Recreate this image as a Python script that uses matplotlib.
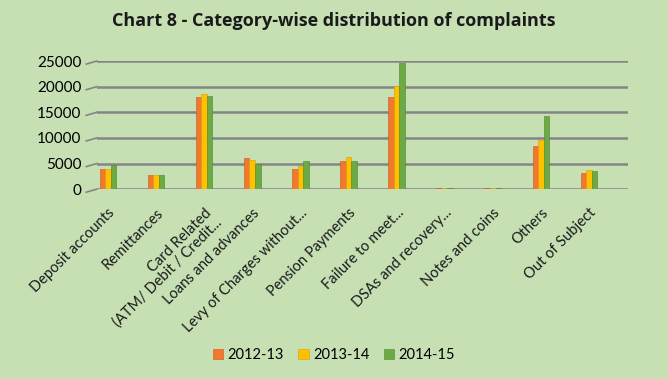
import numpy as np
import matplotlib.pyplot as plt

categories = ["Deposit accounts", "Remittances", "Card Related\n(ATM/ Debit / Credit...",
              "Loans and advances", "Levy of Charges without...", "Pension Payments",
              "Failure to meet...", "DSAs and recovery...", "Notes and coins",
              "Others", "Out of Subject"]
y2012 = [3900, 2700, 18000, 6100, 3900, 5400, 17900, 250, 150, 8400, 3100]
y2013 = [3900, 2700, 18500, 5600, 4600, 6200, 20200, 250, 150, 9600, 3800]
y2014 = [4700, 2700, 18200, 4900, 5500, 5400, 24700, 250, 150, 14200, 3600]
series = ["2012-13", "2013-14", "2014-15"]

colors = ["#F2772F", "#FFC000", "#6EAA43"]
edges = ["#C8561A", "#D9A000", "#4E8530"]
bg = "#C6E0B4"

fig = plt.figure(figsize=(6.68, 3.79), dpi=100, facecolor=bg)
ax = fig.add_axes([0.145, 0.501, 0.795, 0.338], facecolor=bg)

x = np.arange(len(categories))
w = 0.115
for i, (vals, lab) in enumerate(zip([y2012, y2013, y2014], series)):
    ax.bar(x + (i - 1) * w, vals, width=w, color=colors[i], label=lab, zorder=3,
           edgecolor=edges[i], linewidth=0.4)

ax.set_ylim(0, 25000)
ax.set_xlim(-0.23, len(categories) - 1 + 0.81)
ax.set_yticks(range(0, 25001, 5000))
ax.yaxis.grid(True, color="#858585", linewidth=1.8, zorder=0)
for s in ax.spines.values():
    s.set_visible(False)
ax.tick_params(length=0)
ax.tick_params(axis="y", labelsize=11, pad=11)
ax.tick_params(axis="x", pad=12)
ax.set_xticks(x)
ax.set_xticklabels(categories, rotation=45, ha="right", rotation_mode="anchor",
                   fontsize=10.5, family="Lato", color="#1a1a1a", linespacing=1.0)
for t in ax.get_yticklabels():
    t.set_family("Lato")

# small slanted stubs at the left end of the gridlines (3D look)
for v in range(0, 25001, 5000):
    ax.plot([-0.02, 0.0], [v - 600, v], transform=ax.get_yaxis_transform(),
            color="#858585", linewidth=1.2, clip_on=False, zorder=0)

fig.text(0.5, 0.945, "Chart 8 - Category-wise distribution of complaints",
         ha="center", va="center", fontsize=13, fontweight="bold", family="Open Sans",
         color="#1a1a1a")

fig.legend(loc="center", bbox_to_anchor=(0.5, 0.063), ncol=3, frameon=False,
           handlelength=0.7, handleheight=0.7, handletextpad=0.3,
           columnspacing=1.0, prop={"family": "Lato", "size": 10.5})

fig.savefig("out.png", dpi=100, facecolor=bg)
